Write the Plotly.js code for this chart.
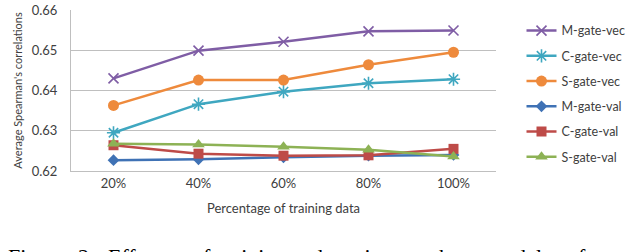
<!DOCTYPE html>
<html>
<head>
<meta charset="utf-8">
<script src="https://cdn.plot.ly/plotly-3.0.1.min.js"></script>
<style>html,body{margin:0;padding:0;background:#fff;overflow:hidden}#chart{width:640px;height:252px}</style>
</head>
<body>
<div id="chart"></div>
<script>
var categories = ["20%", "40%", "60%", "80%", "100%"];
var seriesNames = ["M-gate-vec", "C-gate-vec", "S-gate-vec", "M-gate-val", "C-gate-val", "S-gate-val"];
var mGateVec = [0.6430, 0.6499, 0.6521, 0.6547, 0.6549];
var cGateVec = [0.6295, 0.6366, 0.6397, 0.6418, 0.6428];
var sGateVec = [0.6363, 0.6426, 0.6426, 0.6464, 0.6495];
var mGateVal = [0.6227, 0.6229, 0.6234, 0.6238, 0.6240];
var cGateVal = [0.6264, 0.6243, 0.6238, 0.6239, 0.6255];
var sGateVal = [0.6268, 0.6266, 0.6260, 0.6253, 0.6236];

var seriesValues = [mGateVec, cGateVec, sGateVec, mGateVal, cGateVal, sGateVal];
var colors = ["#7F5DA5", "#3FA7C0", "#EE8A3C", "#3F72B5", "#BE4B48", "#8DB255"];
var symbols = ["x-thin-open", "asterisk-open", "circle", "diamond", "square", "triangle-up"];
var sizes = [10, 11, 11, 9, 10, 11];

var traces = seriesValues.map(function (vals, i) {
  var thin = symbols[i].indexOf("thin") >= 0 || symbols[i].indexOf("asterisk") >= 0;
  return {
    x: categories, y: vals, name: seriesNames[i], type: "scatter", mode: "lines+markers",
    legendgroup: "g" + i,
    line: {color: colors[i], width: 2.5},
    marker: {symbol: symbols[i], size: sizes[i], color: colors[i],
             line: {color: colors[i], width: thin ? 1.6 : 0}}
  };
});

// Caption (justified line of the paper, partly cut off at the bottom edge)
var captionWords = ["Figure", "2:", "Effects", "of", "training", "data", "size", "on", "the", "model", "performance"];
var captionLeftPx = [2, 78, 110, 201, 229, 331, 378, 425, 462, 520, 588];
var plotL = 71, plotW = 460, plotT = 10, plotH = 161;
var captionAnn = captionWords.map(function (w, i) {
  return {
    xref: "paper", yref: "paper", x: (captionLeftPx[i] - plotL) / plotW, xanchor: "left",
    y: -(243 - plotT - plotH) / plotH, yanchor: "top", showarrow: false,
    text: w, borderpad: 0,
    font: {family: "'Liberation Serif', 'DejaVu Serif', serif", size: 22, color: "#000"}
  };
});

var layout = {
  width: 640, height: 252,
  margin: {l: 71, r: 109, t: 10, b: 81},
  paper_bgcolor: "#fff", plot_bgcolor: "#fff",
  font: {family: "Lato, 'Open Sans', sans-serif", color: "#404040", size: 13},
  xaxis: {
    type: "category", range: [-0.5, 4.5], showgrid: false,
    showline: true, linecolor: "#BFBFBF", linewidth: 1, ticks: "",
    tickfont: {size: 13, color: "#404040"},
    title: {text: "Percentage of training data", font: {size: 13, color: "#404040"}, standoff: 14}
  },
  yaxis: {
    range: [0.62, 0.66], dtick: 0.01, tickformat: ".2f",
    showgrid: true, gridcolor: "#BFBFBF", gridwidth: 1,
    showline: true, linecolor: "#BFBFBF", linewidth: 1, zeroline: false,
    ticks: "outside", ticklen: 10, tickcolor: "rgba(0,0,0,0)",
    tickfont: {size: 13, color: "#404040"},
    title: {text: "Average Spearman's correlations", font: {size: 11, color: "#404040"}, standoff: 6}
  },
  legend: {
    x: 1.06, xanchor: "left", y: 0.963, yanchor: "top",
    font: {size: 12.5, color: "#404040"}, itemwidth: 30,
    tracegroupgap: 6, bgcolor: "rgba(0,0,0,0)"
  },
  annotations: captionAnn,
  showlegend: true
};

Plotly.newPlot("chart", traces, layout, {displayModeBar: false, staticPlot: true});
</script>
</body>
</html>
